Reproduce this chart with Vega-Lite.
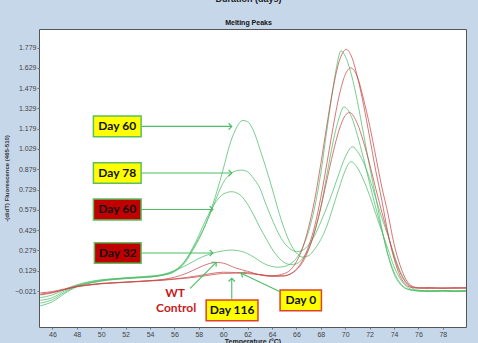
{
  "$schema": "https://vega.github.io/schema/vega-lite/v6.json",
  "width": 427,
  "height": 298,
  "autosize": {"type": "none"},
  "padding": {"left": 39, "top": 29, "right": 12, "bottom": 16},
  "background": "#c6d7ea",
  "title": {
    "text": "Duration (days)",
    "subtitle": "Melting Peaks\u00a0\u00a0\u00a0\u00a0\u00a0\u00a0\u00a0\u00a0\u00a0\u00a0\u00a0\u00a0\u00a0\u00a0\u00a0\u00a0\u00a0\u00a0\u00a0\u00a0\u00a0\u00a0\u00a0\u00a0\u00a0\u00a0",
    "anchor": "middle", "offset": 3.5, "dx": -4,
    "fontSize": 9, "fontWeight": "bold", "font": "Liberation Sans", "color": "#222",
    "subtitleFontSize": 7, "subtitleFontWeight": "bold", "subtitleFont": "Liberation Sans", "subtitleColor": "#111",
    "subtitlePadding": 15
  },
  "config": {
    "view": {"fill": "white", "stroke": "#555", "strokeWidth": 1},
    "axis": {"labelFont": "Liberation Sans", "titleFont": "Liberation Sans", "grid": false, "labelOverlap": false}
  },
  "datasets": {
    "curves": [
      {"s":"D60a","t":45,"v":-0.13},{"s":"D60a","t":46,"v":-0.1},{"s":"D60a","t":47,"v":-0.04},{"s":"D60a","t":48,"v":0.01},{"s":"D60a","t":49,"v":0.035},{"s":"D60a","t":50,"v":0.052},{"s":"D60a","t":51,"v":0.063},{"s":"D60a","t":52,"v":0.07},{"s":"D60a","t":53,"v":0.076},{"s":"D60a","t":54,"v":0.082},{"s":"D60a","t":55,"v":0.095},{"s":"D60a","t":56,"v":0.125},{"s":"D60a","t":56.5,"v":0.16},{"s":"D60a","t":57,"v":0.215},{"s":"D60a","t":57.5,"v":0.29},{"s":"D60a","t":58,"v":0.37},{"s":"D60a","t":58.5,"v":0.46},{"s":"D60a","t":59,"v":0.58},{"s":"D60a","t":59.5,"v":0.72},{"s":"D60a","t":60,"v":0.88},{"s":"D60a","t":60.5,"v":1.05},{"s":"D60a","t":61,"v":1.17},{"s":"D60a","t":61.6,"v":1.24},{"s":"D60a","t":62,"v":1.23},{"s":"D60a","t":62.5,"v":1.16},{"s":"D60a","t":63,"v":1.03},{"s":"D60a","t":63.5,"v":0.89},{"s":"D60a","t":64,"v":0.74},{"s":"D60a","t":64.5,"v":0.58},{"s":"D60a","t":65,"v":0.44},{"s":"D60a","t":65.5,"v":0.33},{"s":"D60a","t":66,"v":0.26},{"s":"D60a","t":66.5,"v":0.23},{"s":"D60a","t":67,"v":0.24},{"s":"D60a","t":67.5,"v":0.29},{"s":"D60a","t":68,"v":0.36},{"s":"D60a","t":68.5,"v":0.46},{"s":"D60a","t":69,"v":0.6},{"s":"D60a","t":69.5,"v":0.74},{"s":"D60a","t":70,"v":0.87},{"s":"D60a","t":70.46,"v":0.935},{"s":"D60a","t":71,"v":0.89},{"s":"D60a","t":71.5,"v":0.8},{"s":"D60a","t":72,"v":0.685},{"s":"D60a","t":72.5,"v":0.55},{"s":"D60a","t":73,"v":0.42},{"s":"D60a","t":73.5,"v":0.29},{"s":"D60a","t":74,"v":0.16},{"s":"D60a","t":74.5,"v":0.07},{"s":"D60a","t":75,"v":0.015},{"s":"D60a","t":75.5,"v":-0.012},{"s":"D60a","t":76,"v":-0.02},{"s":"D60a","t":77,"v":-0.025},{"s":"D60a","t":78,"v":-0.022},{"s":"D60a","t":79,"v":-0.025},{"s":"D60a","t":79.9,"v":-0.022},

      {"s":"D78","t":45,"v":-0.11},{"s":"D78","t":46,"v":-0.085},{"s":"D78","t":47,"v":-0.03},{"s":"D78","t":48,"v":0.015},{"s":"D78","t":49,"v":0.038},{"s":"D78","t":50,"v":0.055},{"s":"D78","t":51,"v":0.066},{"s":"D78","t":52,"v":0.073},{"s":"D78","t":53,"v":0.078},{"s":"D78","t":54,"v":0.083},{"s":"D78","t":55,"v":0.095},{"s":"D78","t":56,"v":0.122},{"s":"D78","t":56.5,"v":0.155},{"s":"D78","t":57,"v":0.205},{"s":"D78","t":57.5,"v":0.28},{"s":"D78","t":58,"v":0.36},{"s":"D78","t":58.5,"v":0.46},{"s":"D78","t":59,"v":0.565},{"s":"D78","t":59.5,"v":0.68},{"s":"D78","t":60,"v":0.78},{"s":"D78","t":60.6,"v":0.845},{"s":"D78","t":61,"v":0.866},{"s":"D78","t":61.5,"v":0.873},{"s":"D78","t":62,"v":0.86},{"s":"D78","t":62.5,"v":0.81},{"s":"D78","t":63,"v":0.74},{"s":"D78","t":63.5,"v":0.62},{"s":"D78","t":64,"v":0.51},{"s":"D78","t":64.5,"v":0.41},{"s":"D78","t":65,"v":0.335},{"s":"D78","t":65.5,"v":0.29},{"s":"D78","t":66,"v":0.27},{"s":"D78","t":66.5,"v":0.28},{"s":"D78","t":67,"v":0.32},{"s":"D78","t":67.5,"v":0.39},{"s":"D78","t":68,"v":0.49},{"s":"D78","t":68.5,"v":0.6},{"s":"D78","t":69,"v":0.72},{"s":"D78","t":69.5,"v":0.85},{"s":"D78","t":70,"v":0.97},{"s":"D78","t":70.62,"v":1.045},{"s":"D78","t":71,"v":1.01},{"s":"D78","t":71.5,"v":0.93},{"s":"D78","t":72,"v":0.81},{"s":"D78","t":72.5,"v":0.666},{"s":"D78","t":73,"v":0.52},{"s":"D78","t":73.5,"v":0.39},{"s":"D78","t":74,"v":0.25},{"s":"D78","t":74.5,"v":0.125},{"s":"D78","t":75,"v":0.045},{"s":"D78","t":75.5,"v":0.0},{"s":"D78","t":76,"v":-0.015},{"s":"D78","t":77,"v":-0.02},{"s":"D78","t":78,"v":-0.018},{"s":"D78","t":79,"v":-0.02},{"s":"D78","t":79.9,"v":-0.018},

      {"s":"D60b","t":45,"v":-0.09},{"s":"D60b","t":46,"v":-0.07},{"s":"D60b","t":47,"v":-0.02},{"s":"D60b","t":48,"v":0.02},{"s":"D60b","t":49,"v":0.042},{"s":"D60b","t":50,"v":0.058},{"s":"D60b","t":51,"v":0.068},{"s":"D60b","t":52,"v":0.075},{"s":"D60b","t":53,"v":0.08},{"s":"D60b","t":54,"v":0.085},{"s":"D60b","t":55,"v":0.098},{"s":"D60b","t":56,"v":0.13},{"s":"D60b","t":56.5,"v":0.165},{"s":"D60b","t":57,"v":0.22},{"s":"D60b","t":57.5,"v":0.3},{"s":"D60b","t":58,"v":0.39},{"s":"D60b","t":58.5,"v":0.49},{"s":"D60b","t":59,"v":0.58},{"s":"D60b","t":59.5,"v":0.65},{"s":"D60b","t":60,"v":0.695},{"s":"D60b","t":60.7,"v":0.713},{"s":"D60b","t":61,"v":0.708},{"s":"D60b","t":61.5,"v":0.68},{"s":"D60b","t":62,"v":0.62},{"s":"D60b","t":62.5,"v":0.54},{"s":"D60b","t":63,"v":0.45},{"s":"D60b","t":63.5,"v":0.37},{"s":"D60b","t":64,"v":0.29},{"s":"D60b","t":64.5,"v":0.23},{"s":"D60b","t":65,"v":0.19},{"s":"D60b","t":65.5,"v":0.175},{"s":"D60b","t":66,"v":0.18},{"s":"D60b","t":66.5,"v":0.22},{"s":"D60b","t":67,"v":0.29},{"s":"D60b","t":67.5,"v":0.42},{"s":"D60b","t":68,"v":0.6},{"s":"D60b","t":68.5,"v":0.84},{"s":"D60b","t":69,"v":1.08},{"s":"D60b","t":69.5,"v":1.26},{"s":"D60b","t":69.9,"v":1.34},{"s":"D60b","t":70.5,"v":1.27},{"s":"D60b","t":71,"v":1.13},{"s":"D60b","t":71.5,"v":0.96},{"s":"D60b","t":72,"v":0.775},{"s":"D60b","t":72.5,"v":0.595},{"s":"D60b","t":73,"v":0.43},{"s":"D60b","t":73.5,"v":0.25},{"s":"D60b","t":74,"v":0.12},{"s":"D60b","t":74.5,"v":0.04},{"s":"D60b","t":75,"v":-0.002},{"s":"D60b","t":75.5,"v":-0.015},{"s":"D60b","t":76,"v":-0.02},{"s":"D60b","t":77,"v":-0.022},{"s":"D60b","t":78,"v":-0.02},{"s":"D60b","t":79,"v":-0.023},{"s":"D60b","t":79.9,"v":-0.02},

      {"s":"D32","t":45,"v":-0.07},{"s":"D32","t":46,"v":-0.05},{"s":"D32","t":47,"v":-0.01},{"s":"D32","t":48,"v":0.025},{"s":"D32","t":49,"v":0.048},{"s":"D32","t":50,"v":0.062},{"s":"D32","t":51,"v":0.07},{"s":"D32","t":52,"v":0.077},{"s":"D32","t":53,"v":0.083},{"s":"D32","t":54,"v":0.09},{"s":"D32","t":55,"v":0.1},{"s":"D32","t":56,"v":0.13},{"s":"D32","t":57,"v":0.17},{"s":"D32","t":58,"v":0.22},{"s":"D32","t":59,"v":0.255},{"s":"D32","t":60,"v":0.276},{"s":"D32","t":60.7,"v":0.282},{"s":"D32","t":61,"v":0.28},{"s":"D32","t":61.5,"v":0.272},{"s":"D32","t":62,"v":0.255},{"s":"D32","t":62.5,"v":0.23},{"s":"D32","t":63,"v":0.2},{"s":"D32","t":63.5,"v":0.175},{"s":"D32","t":64,"v":0.16},{"s":"D32","t":64.5,"v":0.155},{"s":"D32","t":65,"v":0.16},{"s":"D32","t":65.5,"v":0.18},{"s":"D32","t":66,"v":0.22},{"s":"D32","t":66.5,"v":0.3},{"s":"D32","t":67,"v":0.42},{"s":"D32","t":67.5,"v":0.6},{"s":"D32","t":68,"v":0.85},{"s":"D32","t":68.5,"v":1.17},{"s":"D32","t":69,"v":1.48},{"s":"D32","t":69.3,"v":1.64},{"s":"D32","t":69.65,"v":1.755},{"s":"D32","t":70,"v":1.715},{"s":"D32","t":70.5,"v":1.58},{"s":"D32","t":71,"v":1.38},{"s":"D32","t":71.5,"v":1.14},{"s":"D32","t":72,"v":0.9},{"s":"D32","t":72.5,"v":0.675},{"s":"D32","t":73,"v":0.44},{"s":"D32","t":73.5,"v":0.245},{"s":"D32","t":74,"v":0.105},{"s":"D32","t":74.5,"v":0.03},{"s":"D32","t":75,"v":-0.005},{"s":"D32","t":75.5,"v":-0.015},{"s":"D32","t":76,"v":-0.02},{"s":"D32","t":77,"v":-0.02},{"s":"D32","t":78,"v":-0.018},{"s":"D32","t":79,"v":-0.022},{"s":"D32","t":79.9,"v":-0.02},

      {"s":"WT","t":45,"v":-0.035},{"s":"WT","t":46,"v":-0.025},{"s":"WT","t":47,"v":-0.005},{"s":"WT","t":48,"v":0.015},{"s":"WT","t":49,"v":0.025},{"s":"WT","t":50,"v":0.035},{"s":"WT","t":51,"v":0.04},{"s":"WT","t":52,"v":0.045},{"s":"WT","t":53,"v":0.05},{"s":"WT","t":54,"v":0.056},{"s":"WT","t":55,"v":0.064},{"s":"WT","t":56,"v":0.081},{"s":"WT","t":57,"v":0.11},{"s":"WT","t":58,"v":0.152},{"s":"WT","t":59,"v":0.185},{"s":"WT","t":59.5,"v":0.19},{"s":"WT","t":60,"v":0.185},{"s":"WT","t":61,"v":0.15},{"s":"WT","t":62,"v":0.125},{"s":"WT","t":63,"v":0.098},{"s":"WT","t":64,"v":0.087},{"s":"WT","t":65,"v":0.09},{"s":"WT","t":65.5,"v":0.105},{"s":"WT","t":66,"v":0.14},{"s":"WT","t":66.5,"v":0.205},{"s":"WT","t":67,"v":0.31},{"s":"WT","t":67.5,"v":0.459},{"s":"WT","t":68,"v":0.671},{"s":"WT","t":68.5,"v":0.924},{"s":"WT","t":69,"v":1.187},{"s":"WT","t":69.5,"v":1.421},{"s":"WT","t":70,"v":1.579},{"s":"WT","t":70.46,"v":1.628},{"s":"WT","t":71,"v":1.561},{"s":"WT","t":71.5,"v":1.398},{"s":"WT","t":72,"v":1.204},{"s":"WT","t":72.5,"v":0.976},{"s":"WT","t":73,"v":0.748},{"s":"WT","t":73.5,"v":0.552},{"s":"WT","t":74,"v":0.328},{"s":"WT","t":74.5,"v":0.168},{"s":"WT","t":75,"v":0.061},{"s":"WT","t":75.5,"v":0.014},{"s":"WT","t":76,"v":0.003},{"s":"WT","t":77,"v":0.005},{"s":"WT","t":78,"v":0.0},{"s":"WT","t":79,"v":0.004},{"s":"WT","t":79.9,"v":0.002},

      {"s":"D116","t":45,"v":-0.05},{"s":"D116","t":46,"v":-0.035},{"s":"D116","t":47,"v":-0.01},{"s":"D116","t":48,"v":0.012},{"s":"D116","t":49,"v":0.025},{"s":"D116","t":50,"v":0.035},{"s":"D116","t":51,"v":0.04},{"s":"D116","t":52,"v":0.045},{"s":"D116","t":53,"v":0.05},{"s":"D116","t":54,"v":0.055},{"s":"D116","t":55,"v":0.061},{"s":"D116","t":56,"v":0.069},{"s":"D116","t":57,"v":0.079},{"s":"D116","t":58,"v":0.093},{"s":"D116","t":59,"v":0.108},{"s":"D116","t":60,"v":0.118},{"s":"D116","t":61,"v":0.116},{"s":"D116","t":62,"v":0.115},{"s":"D116","t":63,"v":0.1},{"s":"D116","t":64,"v":0.092},{"s":"D116","t":65,"v":0.108},{"s":"D116","t":65.5,"v":0.135},{"s":"D116","t":66,"v":0.195},{"s":"D116","t":66.5,"v":0.295},{"s":"D116","t":67,"v":0.45},{"s":"D116","t":67.5,"v":0.656},{"s":"D116","t":68,"v":0.92},{"s":"D116","t":68.5,"v":1.207},{"s":"D116","t":69,"v":1.475},{"s":"D116","t":69.5,"v":1.675},{"s":"D116","t":70.1,"v":1.765},{"s":"D116","t":70.5,"v":1.716},{"s":"D116","t":71,"v":1.562},{"s":"D116","t":71.5,"v":1.357},{"s":"D116","t":72,"v":1.116},{"s":"D116","t":72.5,"v":0.869},{"s":"D116","t":73,"v":0.65},{"s":"D116","t":73.5,"v":0.408},{"s":"D116","t":74,"v":0.221},{"s":"D116","t":74.5,"v":0.089},{"s":"D116","t":75,"v":0.024},{"s":"D116","t":75.5,"v":0.004},{"s":"D116","t":76,"v":0.0},{"s":"D116","t":77,"v":0.003},{"s":"D116","t":78,"v":-0.002},{"s":"D116","t":79,"v":0.002},{"s":"D116","t":79.9,"v":0.0},

      {"s":"D0","t":45,"v":-0.045},{"s":"D0","t":46,"v":-0.03},{"s":"D0","t":47,"v":-0.01},{"s":"D0","t":48,"v":0.01},{"s":"D0","t":49,"v":0.022},{"s":"D0","t":50,"v":0.032},{"s":"D0","t":51,"v":0.038},{"s":"D0","t":52,"v":0.043},{"s":"D0","t":53,"v":0.048},{"s":"D0","t":54,"v":0.053},{"s":"D0","t":55,"v":0.058},{"s":"D0","t":56,"v":0.066},{"s":"D0","t":57,"v":0.074},{"s":"D0","t":58,"v":0.085},{"s":"D0","t":59,"v":0.098},{"s":"D0","t":60,"v":0.109},{"s":"D0","t":61,"v":0.111},{"s":"D0","t":62,"v":0.108},{"s":"D0","t":63,"v":0.1},{"s":"D0","t":64,"v":0.09},{"s":"D0","t":65,"v":0.092},{"s":"D0","t":65.5,"v":0.105},{"s":"D0","t":66,"v":0.135},{"s":"D0","t":66.5,"v":0.19},{"s":"D0","t":67,"v":0.285},{"s":"D0","t":67.5,"v":0.42},{"s":"D0","t":68,"v":0.595},{"s":"D0","t":68.5,"v":0.8},{"s":"D0","t":69,"v":1.0},{"s":"D0","t":69.5,"v":1.17},{"s":"D0","t":70,"v":1.276},{"s":"D0","t":70.35,"v":1.298},{"s":"D0","t":71,"v":1.215},{"s":"D0","t":71.5,"v":1.081},{"s":"D0","t":72,"v":0.919},{"s":"D0","t":72.5,"v":0.737},{"s":"D0","t":73,"v":0.563},{"s":"D0","t":73.5,"v":0.399},{"s":"D0","t":74,"v":0.234},{"s":"D0","t":74.5,"v":0.115},{"s":"D0","t":75,"v":0.039},{"s":"D0","t":75.5,"v":0.009},{"s":"D0","t":76,"v":0.002},{"s":"D0","t":77,"v":-0.003},{"s":"D0","t":78,"v":0.003},{"s":"D0","t":79,"v":-0.001},{"s":"D0","t":79.9,"v":0.004}
    ],
    "boxes": [
      {"label":"Day 60","x1":49.36,"x2":53.27,"y1":1.119,"y2":1.272,"tx":51.31,"ty":1.196,"kind":"a"},
      {"label":"Day 78","x1":49.36,"x2":53.27,"y1":0.775,"y2":0.927,"tx":51.31,"ty":0.851,"kind":"a"},
      {"label":"Day 60","x1":49.36,"x2":53.27,"y1":0.504,"y2":0.659,"tx":51.31,"ty":0.582,"kind":"b"},
      {"label":"Day 32","x1":49.44,"x2":53.27,"y1":0.184,"y2":0.336,"tx":51.35,"ty":0.26,"kind":"b"},
      {"label":"Day 116","x1":58.6,"x2":62.85,"y1":-0.241,"y2":-0.088,"tx":60.73,"ty":-0.165,"kind":"c"},
      {"label":"Day 0","x1":64.66,"x2":68.05,"y1":-0.167,"y2":-0.014,"tx":66.36,"ty":-0.09,"kind":"c"}
    ],
    "notes": [
      {"label":"WT","tx":56.06,"ty":-0.038},
      {"label":"Control","tx":56.14,"ty":-0.149}
    ],
    "arrows": [
      {"x":53.33,"y":1.196,"x2":60.7,"y2":1.196,"c":"g","dir":"right"},
      {"x":53.33,"y":0.851,"x2":60.7,"y2":0.851,"c":"g","dir":"right"},
      {"x":53.33,"y":0.582,"x2":59.15,"y2":0.582,"c":"g","dir":"right"},
      {"x":53.33,"y":0.26,"x2":59.15,"y2":0.26,"c":"g","dir":"right"},
      {"x":57.29,"y":-0.001,"x2":59.42,"y2":0.191,"c":"r","dir":"upright"},
      {"x":60.7,"y":-0.088,"x2":60.7,"y2":0.073,"c":"r","dir":"up"},
      {"x":64.66,"y":-0.026,"x2":61.47,"y2":0.11,"c":"r","dir":"upleft"}
    ]
  },
  "layer": [
    {
      "data": {"name": "curves"},
      "mark": {"type": "line", "interpolate": "monotone", "strokeWidth": 1, "opacity": 0.75},
      "encoding": {
        "x": {
          "field": "t", "type": "quantitative",
          "scale": {"domain": [44.9, 79.9], "nice": false, "zero": false},
          "axis": {
            "values": [46,48,50,52,54,56,58,60,62,64,66,68,70,72,74,76,78], "tickCount": 40,
            "format": "d", "labelFontSize": 7, "labelColor": "#444", "tickSize": 2, "tickColor": "#777",
            "domain": false, "labelPadding": 1, "labelFlush": false, "labelOverlap": false,
            "title": "Temperature (°C)", "titleFontSize": 7, "titleFontWeight": "bold", "titleColor": "#222", "titlePadding": 0
          }
        },
        "y": {
          "field": "v", "type": "quantitative",
          "scale": {"domain": [-0.287, 1.916], "nice": false, "zero": false},
          "axis": {
            "values": [-0.021,0.129,0.279,0.429,0.579,0.729,0.879,1.029,1.179,1.329,1.479,1.629,1.779], "tickCount": 40,
            "format": ".3f", "labelFontSize": 7, "labelColor": "#444", "tickSize": 2, "tickColor": "#777",
            "domain": false, "labelPadding": 1, "labelFlush": false, "labelOverlap": false,
            "title": "-(d/dT) Fluorescence (465-510)", "titleFontSize": 6, "titleFontWeight": "bold", "titleColor": "#333", "titlePadding": 5
          }
        },
        "detail": {"field": "s"},
        "color": {
          "field": "s", "type": "nominal", "legend": null,
          "scale": {"domain": ["D60a","D78","D60b","D32","WT","D116","D0"], "range": ["#4cbd68","#4cbd68","#4cbd68","#4cbd68","#c84a4a","#c84a4a","#c84a4a"]}
        }
      }
    },
    {
      "data": {"name": "boxes"},
      "mark": {"type": "rect", "strokeWidth": 1.5},
      "encoding": {
        "x": {"field": "x1", "type": "quantitative"},
        "x2": {"field": "x2"},
        "y": {"field": "y1", "type": "quantitative"},
        "y2": {"field": "y2"},
        "fill": {"field": "kind", "type": "nominal", "legend": null, "scale": {"domain": ["a","b","c"], "range": ["#ffff00","#c00000","#ffff00"]}},
        "stroke": {"field": "kind", "type": "nominal", "legend": null, "scale": {"domain": ["a","b","c"], "range": ["#5cc060","#5cc060","#e0402c"]}}
      }
    },
    {
      "data": {"name": "boxes"},
      "mark": {"type": "text", "font": "Lato", "fontWeight": "bold", "fontSize": 12, "color": "#111", "align": "center", "baseline": "middle"},
      "encoding": {
        "x": {"field": "tx", "type": "quantitative"},
        "y": {"field": "ty", "type": "quantitative"},
        "text": {"field": "label"}
      }
    },
    {
      "data": {"name": "notes"},
      "mark": {"type": "text", "font": "Lato", "fontWeight": "bold", "fontSize": 12, "color": "#c41a1a", "align": "center", "baseline": "middle"},
      "encoding": {
        "x": {"field": "tx", "type": "quantitative"},
        "y": {"field": "ty", "type": "quantitative"},
        "text": {"field": "label"}
      }
    },
    {
      "data": {"name": "arrows"},
      "mark": {"type": "rule", "strokeWidth": 1.1},
      "encoding": {
        "x": {"field": "x", "type": "quantitative"},
        "y": {"field": "y", "type": "quantitative"},
        "x2": {"field": "x2"},
        "y2": {"field": "y2"},
        "color": {"field": "c", "type": "nominal", "legend": null, "scale": {"domain": ["g","r"], "range": ["#2fae52","#d42222"]}}
      }
    },
    {
      "data": {"name": "arrows"},
      "transform": [{"filter": "datum.dir === 'right'"}],
      "mark": {"type": "point", "shape": "M-1,1L0,0L1,1", "size": 40, "filled": false, "strokeWidth": 1.2, "angle": 90, "opacity": 1},
      "encoding": {
        "x": {"field": "x2", "type": "quantitative"},
        "y": {"field": "y2", "type": "quantitative"},
        "color": {"field": "c", "type": "nominal", "legend": null, "scale": {"domain": ["g","r"], "range": ["#2fae52","#d42222"]}}
      }
    },
    {
      "data": {"name": "arrows"},
      "transform": [{"filter": "datum.dir === 'upright'"}],
      "mark": {"type": "point", "shape": "M-1,1L0,0L1,1", "size": 40, "filled": false, "strokeWidth": 1.2, "angle": 45, "opacity": 1},
      "encoding": {
        "x": {"field": "x2", "type": "quantitative"},
        "y": {"field": "y2", "type": "quantitative"},
        "color": {"field": "c", "type": "nominal", "legend": null, "scale": {"domain": ["g","r"], "range": ["#2fae52","#d42222"]}}
      }
    },
    {
      "data": {"name": "arrows"},
      "transform": [{"filter": "datum.dir === 'up'"}],
      "mark": {"type": "point", "shape": "M-1,1L0,0L1,1", "size": 40, "filled": false, "strokeWidth": 1.2, "angle": 0, "opacity": 1},
      "encoding": {
        "x": {"field": "x2", "type": "quantitative"},
        "y": {"field": "y2", "type": "quantitative"},
        "color": {"field": "c", "type": "nominal", "legend": null, "scale": {"domain": ["g","r"], "range": ["#2fae52","#d42222"]}}
      }
    },
    {
      "data": {"name": "arrows"},
      "transform": [{"filter": "datum.dir === 'upleft'"}],
      "mark": {"type": "point", "shape": "M-1,1L0,0L1,1", "size": 40, "filled": false, "strokeWidth": 1.2, "angle": 295, "opacity": 1},
      "encoding": {
        "x": {"field": "x2", "type": "quantitative"},
        "y": {"field": "y2", "type": "quantitative"},
        "color": {"field": "c", "type": "nominal", "legend": null, "scale": {"domain": ["g","r"], "range": ["#2fae52","#d42222"]}}
      }
    }
  ]
}
